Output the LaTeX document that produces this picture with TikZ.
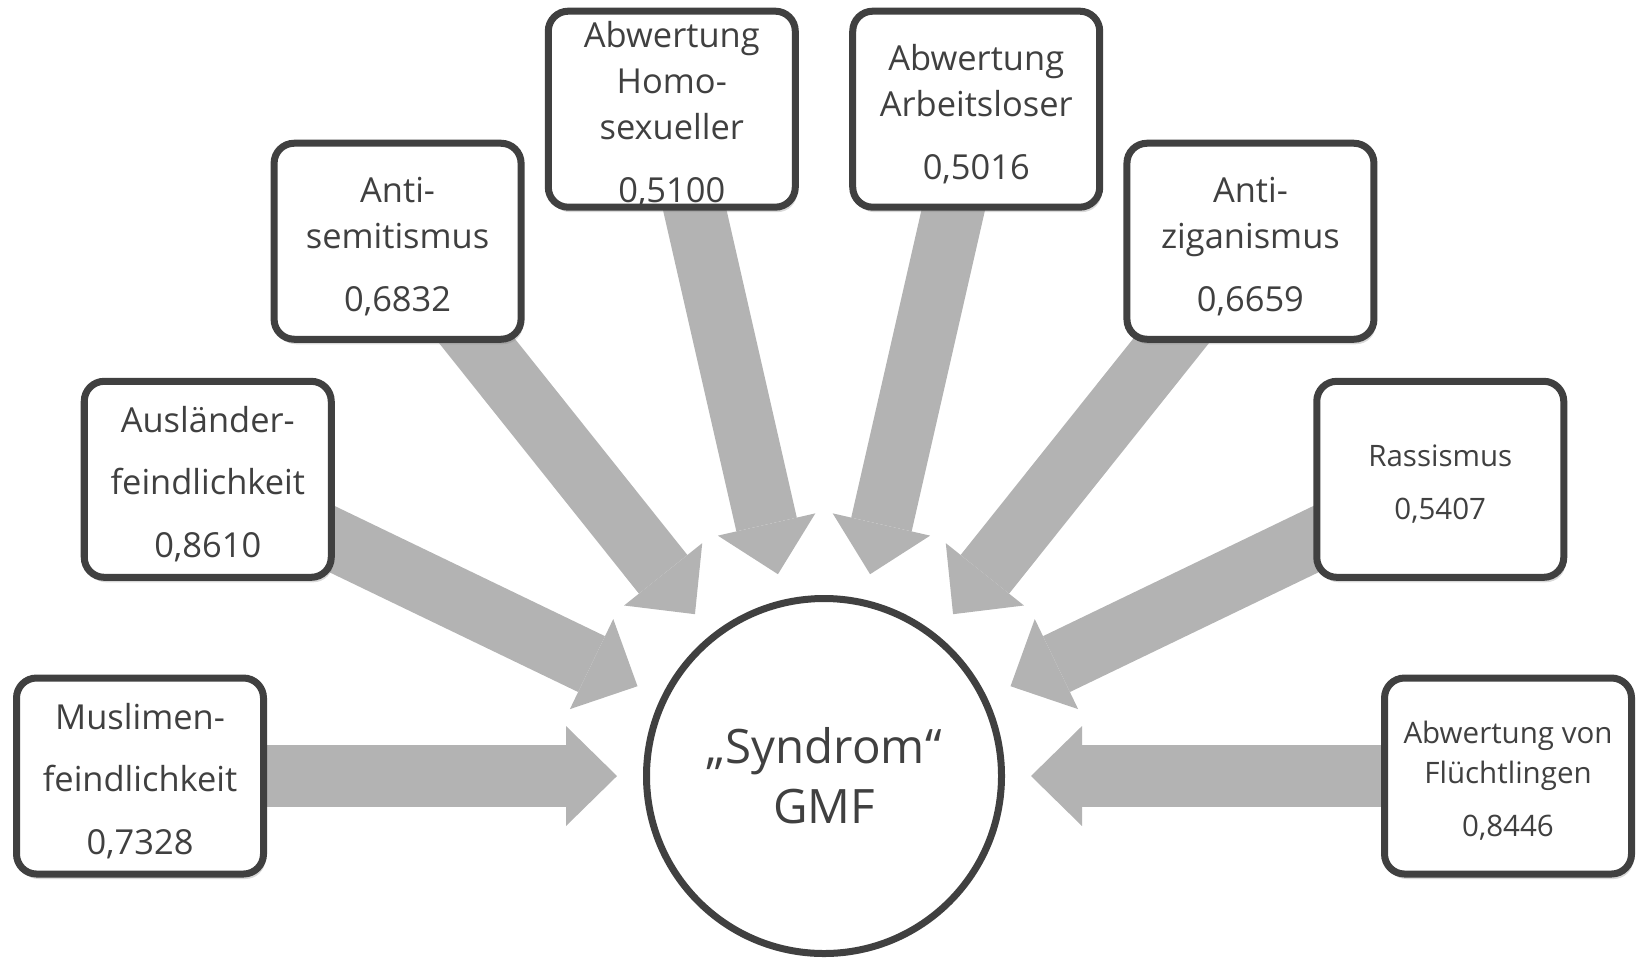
\documentclass[tikz,border=0pt]{standalone}
\usepackage{fontspec}
\setmainfont{Open Sans}
\usepackage{xcolor}
\usepackage{tikz}
\usetikzlibrary{
	arrows.meta,shadows,backgrounds
}

\definecolor{gmfdark}{HTML}{404040}
\definecolor{gmfgrey}{HTML}{B3B3B3}

% extra room above the first line, pushes the text a bit down
\newcommand{\gmfstrut}{\rule{0pt}{\dimexpr0.7\baselineskip+1pt\relax}}

\tikzset{
	gmfbox/.style={draw=gmfdark, line width=0.07cm, rounded corners=0.2cm, fill=white,
		text=gmfdark, align=center, inner sep=0pt, minimum width=2.47cm, minimum height=1.96cm,
		font=\fontsize{9.8}{13.1}\selectfont,
		drop shadow={shadow xshift=0.02cm, shadow yshift=-0.05cm, opacity=0.3}},
	gmfsmall/.style={font=\fontsize{8.4}{11.4}\selectfont},
	gmfcirc/.style={circle, draw=gmfdark, line width=0.07cm, fill=white, text=gmfdark,
		align=center, inner sep=0pt, minimum size=3.55cm, font=\fontsize{13.5}{17}\selectfont},
	gmfarrow/.style={draw=gmfgrey, line width=0.62cm,
		-{Triangle[width=1.0cm, length=0.51cm, line width=0pt]},
		shorten <=-0.5cm, shorten >=0.26cm}
}

\begin{document}
\begin{tikzpicture}
	\useasboundingbox (0,0) rectangle (16.38,9.6);
	\begin{scope}[shift={(8.24,1.84)}]
		\node[gmfcirc] (gmf) at (0,0) {„Syndrom“\\GMF};
		%
		\node[gmfbox] (musl) at (180:6.84) {\gmfstrut Muslimen-\\[4.5pt]feindlichkeit\\[4.8pt]0,7328};
		\node[gmfbox] (ausl) at (154.29:6.84) {\gmfstrut Ausländer-\\[4.5pt]feindlichkeit\\[4.8pt]0,8610};
		\node[gmfbox] (antisem) at (128.57:6.84) {\gmfstrut Anti-\\semitismus\\[4.8pt]0,6832};
		\node[gmfbox] (homo) at (102.86:6.84) {\gmfstrut Abwertung\\Homo-\\sexueller\\[4.8pt]0,5100};
		\node[gmfbox] (arbeit) at (77.14:6.84) {\gmfstrut Abwertung\\Arbeitsloser\\[4.8pt]0,5016};
		\node[gmfbox] (antizig) at (51.43:6.84) {\gmfstrut Anti-\\ziganismus\\[4.8pt]0,6659};
		\node[gmfbox, gmfsmall] (rass) at (25.71:6.84) {\gmfstrut Rassismus\\[3.8pt]0,5407};
		\node[gmfbox, gmfsmall] (fluecht) at (0:6.84) {\gmfstrut Abwertung von\\Flüchtlingen\\[3.8pt]0,8446};
		%
		\begin{scope}[on background layer]
			\draw[gmfarrow] (musl) -- (gmf);
			\draw[gmfarrow] (ausl) -- (gmf);
			\draw[gmfarrow] (antisem) -- (gmf);
			\draw[gmfarrow] (homo) -- (gmf);
			\draw[gmfarrow] (arbeit) -- (gmf);
			\draw[gmfarrow] (antizig) -- (gmf);
			\draw[gmfarrow] (rass) -- (gmf);
			\draw[gmfarrow] (fluecht) -- (gmf);
		\end{scope}
	\end{scope}
\end{tikzpicture}
\end{document}
